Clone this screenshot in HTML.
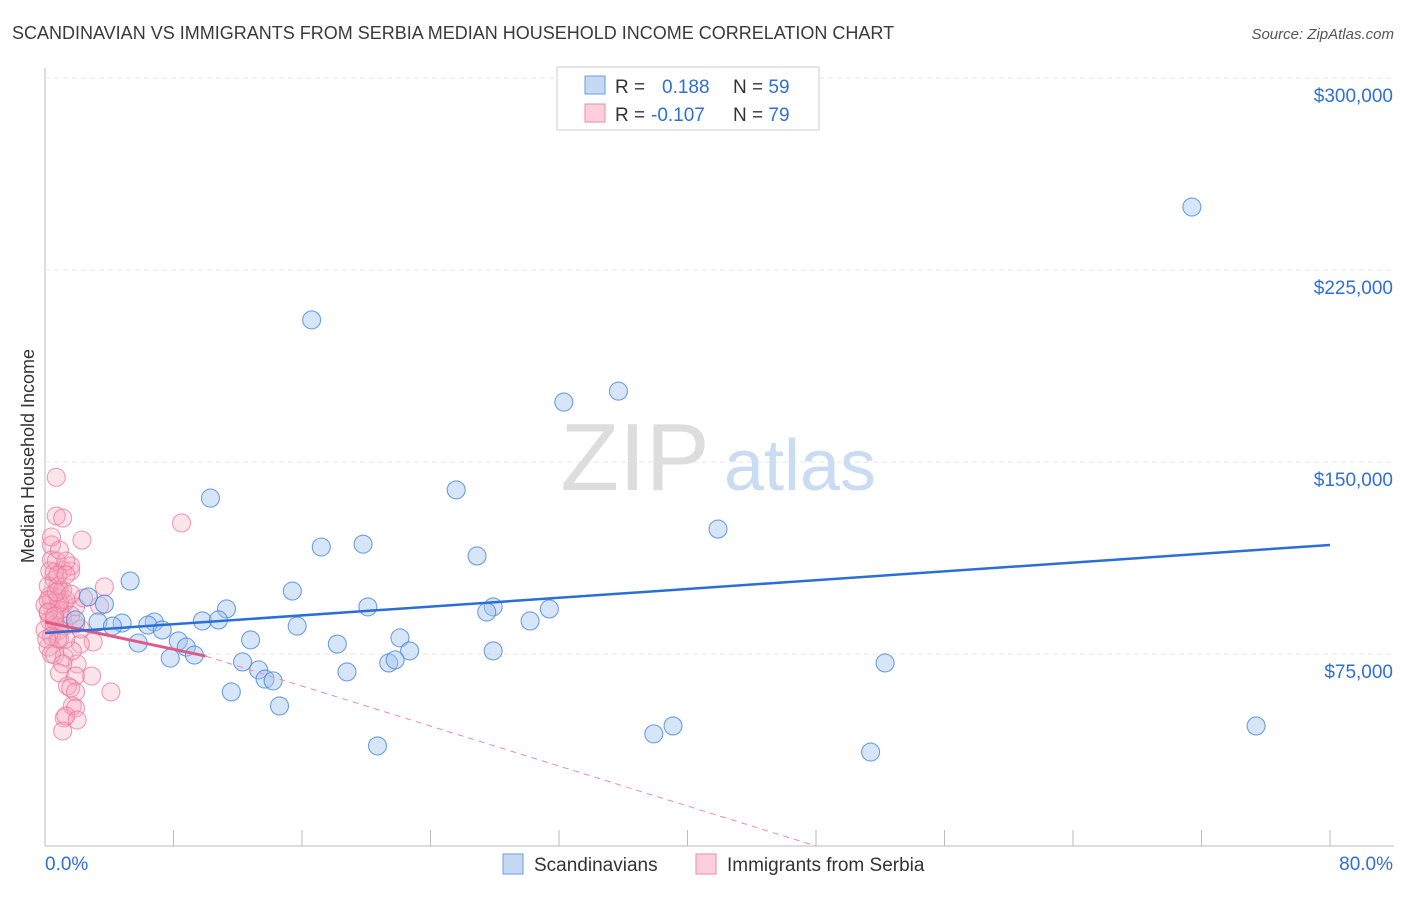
<!DOCTYPE html>
<html><head><meta charset="utf-8"><style>
body{margin:0;background:#fff;font-family:"Liberation Sans",sans-serif;}
svg text{font-family:"Liberation Sans",sans-serif;}
</style></head><body>
<svg id="chart" width="1406" height="892" xmlns="http://www.w3.org/2000/svg">
<text x="12" y="39" font-size="18" fill="#3a3a3a">SCANDINAVIAN VS IMMIGRANTS FROM SERBIA MEDIAN HOUSEHOLD INCOME CORRELATION CHART</text>
<text x="1394" y="39" font-size="15" fill="#555" text-anchor="end" font-style="italic">Source: ZipAtlas.com</text>
<text x="34" y="456" font-size="18" fill="#333" text-anchor="middle" transform="rotate(-90 34 456)">Median Household Income</text>
<g id="grid"></g>
<g id="watermark">
<text x="635" y="490" font-size="96" fill="#ddd" text-anchor="middle" font-family="Liberation Serif">ZIP</text>
<text x="800" y="490" font-size="72" fill="#c9dcf2" text-anchor="middle">atlas</text>
</g>
<g id="pts"></g>
<g id="trend"></g>
<g>
<rect x="557" y="67" width="262" height="63" fill="#fff" stroke="#ccc"/>
<rect x="585" y="76" width="20" height="18" fill="#c5d9f5" stroke="#6a9be0"/>
<rect x="585" y="104" width="20" height="18" fill="#fbd0dc" stroke="#f08aa8"/>
<text x="615" y="93" font-size="19" fill="#333">R = <tspan fill="#2f6fd6" x="662">0.188</tspan><tspan x="733" fill="#333">N = </tspan><tspan fill="#2f6fd6">59</tspan></text>
<text x="615" y="121" font-size="19" fill="#333">R = <tspan fill="#2f6fd6" x="651">-0.107</tspan><tspan x="733" fill="#333">N = </tspan><tspan fill="#2f6fd6">79</tspan></text>
</g>
<g>
<rect x="503" y="854" width="20" height="20" fill="#c5d9f5" stroke="#6a9be0"/>
<text x="534" y="871" font-size="19" fill="#333">Scandinavians</text>
<rect x="696" y="854" width="20" height="20" fill="#fbd0dc" stroke="#f08aa8"/>
<text x="727" y="871" font-size="19" fill="#333">Immigrants from Serbia</text>
</g>
</svg>
<script>
const xTicksPct=[0,10,20,30,40,50,60,70,80];
const yTicks=[75,150,225,300];
const yTickLabels=["$75,000","$150,000","$225,000","$300,000"];
const blueX=[71.4,16.6,35.7,32.3,25.6,10.3,41.9,19.8,17.2,26.9,5.3,15.4,2.7,3.7,20.1,11.3,27.9,27.5,31.4,6.8,9.8,10.8,4.8,3.3,1.9,4.2,6.4,7.3,15.7,30.2,12.8,8.3,5.8,22.1,8.8,18.2,9.3,7.8,22.7,27.9,12.3,21.4,21.8,52.3,13.3,18.8,13.7,14.2,11.6,14.6,39.1,75.4,37.9,20.7,51.4];
const blueY=[249.6,205.5,177.7,173.4,139.1,135.9,123.8,117.9,116.8,113.3,103.5,99.6,97.3,94.5,93.4,92.6,93.4,91.4,92.6,87.5,87.9,88.3,87.1,87.5,88.3,85.9,86.3,84.4,85.9,87.9,80.5,80.1,79.3,81.3,77.7,78.9,74.6,73.4,76.2,76.2,71.9,71.5,72.7,71.5,68.8,68.0,65.2,64.5,60.2,54.7,46.9,46.9,43.8,39.1,36.7];
const pinkX=[0.7,8.5,0.7,1.1,2.3,0.4,0.4,0.4,1.1,1.6,0.6,0.6,1.6,3.7,0.9,0.3,0.8,1.2,0.7,0.2,1.1,1.9,3.4,0.3,0.6,0.9,0,1.2,0.4,0.9,0.2,3.0,2.2,0.6,1.2,2.0,0.9,1.9,2.9,1.4,1.6,1.9,4.1,1.7,1.9,1.2,1.3,2.0,1.1,0.8,0.4,0,0.9,0.8,0.2,1.3,0.3,0.7,1.3,1.1,0.6,1.6,0.1,2.4,0.9,1.7,0.2,0.7,1.3,2.2,0.4,1.1,1.6,0.8,0.2,1.9,1.3,0.9,0.6];
const pinkY=[144,126.2,128.9,128.1,119.5,117.6,120.7,111.7,107.8,107.4,103.9,107,109.4,101.2,100,97.7,96.9,94.9,92.2,91,89.5,93.4,93.8,87.9,86.3,84.4,84.4,85.9,82,80.9,77.7,79.7,78.9,74.6,73.8,71.1,67.6,66.4,66.4,62.5,61.7,60.2,60.2,54.7,53.9,50,50.8,49.2,44.9,80.9,96.1,94.1,92.2,101.6,101.6,96.1,107.4,111.3,111.3,100,88.3,90.2,80.9,96.9,94.9,76.2,96.1,99.2,80.9,84.8,75,71.1,98.4,105.9,91.4,86.7,105.9,115.6,89.8];
const blueTrend=[83.2,117.6];
const pinkTrend=[87.5,74.2];
const pinkZeroPct=48;
const X0=45,X1=1330,Y0=846;
const xs=p=>X0+(X1-X0)*p/80;
const ys=v=>Y0-v*192/75;
const NS="http://www.w3.org/2000/svg";
function mk(tag,attrs,parent){const e=document.createElementNS(NS,tag);for(const k in attrs)e.setAttribute(k,attrs[k]);parent.appendChild(e);return e;}
const grid=document.getElementById('grid');
let ax=mk('line',{x1:X0,y1:68,x2:X0,y2:Y0,stroke:'#bbb'},grid);


let bx=mk('line',{x1:X0,y1:Y0,x2:1394,y2:Y0,stroke:'#bbb'},grid);


mk('line',{x1:X0,y1:78,x2:1394,y2:78,stroke:'#e6e6e6','stroke-dasharray':'5,4'},grid);
yTicks.forEach((v,i)=>{
  const g=mk('line',{x1:X0,y1:ys(v),x2:1394,y2:ys(v),stroke:'#e6e6e6','stroke-dasharray':'5,4'},grid);
  
  
  const t=mk('text',{x:1393,y:ys(v)+24,'font-size':19,fill:'#2f6fd6','text-anchor':'end'},grid);
  t.textContent=yTickLabels[i];
  
  
});
for(let p=0;p<=80;p+=8){
  const l=mk('line',{x1:xs(p),y1:Y0,x2:xs(p),y2:Y0-16,stroke:'#bbb'},grid);
  
  
}
let t0=mk('text',{x:45,y:870,'font-size':19,fill:'#2f6fd6'},grid);t0.textContent='0.0%';


let t1=mk('text',{x:1393,y:870,'font-size':19,fill:'#2f6fd6','text-anchor':'end'},grid);t1.textContent='80.0%';


const pts=document.getElementById('pts');
pinkX.forEach((x,i)=>{
  const c=mk('circle',{cx:xs(x),cy:ys(pinkY[i]),r:9,fill:'rgba(245,165,190,0.3)',stroke:'rgba(235,115,155,0.7)','stroke-width':1.1},pts);
  
  
});
blueX.forEach((x,i)=>{
  const c=mk('circle',{cx:xs(x),cy:ys(blueY[i]),r:9,fill:'rgba(165,198,240,0.45)',stroke:'rgba(65,130,218,0.75)','stroke-width':1.1},pts);
  
  
});
const tr=document.getElementById('trend');
let pd=mk('line',{x1:xs(10),y1:ys(pinkTrend[1]),x2:xs(pinkZeroPct),y2:ys(0),stroke:'#f08aa8','stroke-width':1,'stroke-dasharray':'6,5'},tr);


let ps=mk('line',{x1:xs(0),y1:ys(pinkTrend[0]),x2:xs(10),y2:ys(pinkTrend[1]),stroke:'#e05a87','stroke-width':3},tr);


let bl=mk('line',{x1:xs(0),y1:ys(blueTrend[0]),x2:xs(80),y2:ys(blueTrend[1]),stroke:'#2a6fd4','stroke-width':2.5},tr);


</script>
</body></html>
